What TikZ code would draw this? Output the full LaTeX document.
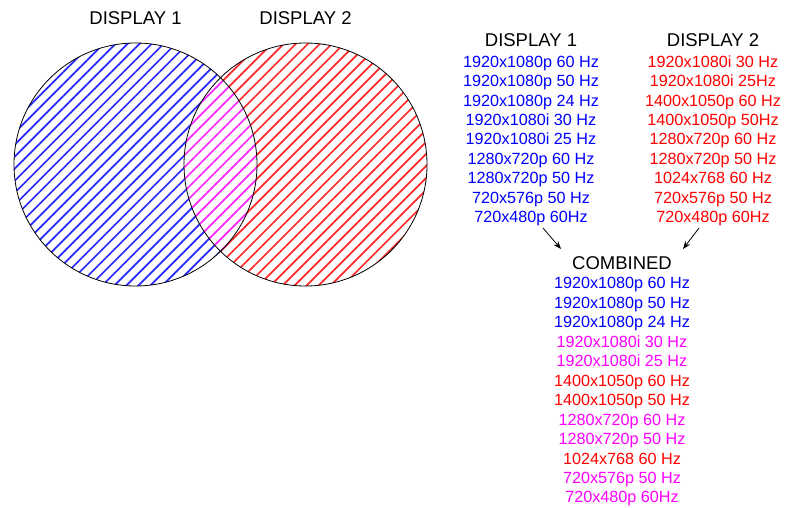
\documentclass[tikz,border=0pt]{standalone}
\usepackage{fontspec}
\setmainfont{Liberation Sans}
\usetikzlibrary{arrows.meta,patterns.meta}
\definecolor{pinkmode}{RGB}{255,0,255}
\definecolor{bluemode}{RGB}{0,0,255}
\definecolor{redmode}{RGB}{255,0,0}

\begin{document}
\begin{tikzpicture}[x=1pt, y=-1pt]
  \tikzset{
    head_text/.style={inner sep=0pt, text height=13.4pt, text depth=0pt, font=\fontsize{18.5}{20}\selectfont},
    mode_text/.style={inner sep=0pt, text height=11.8pt, text depth=0pt, font=\fontsize{16.2}{18}\selectfont},
    stripes/.style={pattern={Lines[angle=45, distance=8.5pt, line width=1.7pt]}, pattern color=#1!85},
    merge_arrow/.style={-{Stealth[length=8pt, width=6pt]}, line width=0.8pt}
  }
  \useasboundingbox (0,0) rectangle (790,508);

  % Círculos rayados
  \path[stripes=bluemode] (135.5,164.5) circle[radius=121.5];
  \path[stripes=redmode] (305.5,164.5) circle[radius=121.5];
  \begin{scope}
    \clip (135.5,164.5) circle[radius=121.5];
    \path[fill=white] (305.5,164.5) circle[radius=121.5];
    \path[stripes=pinkmode] (305.5,164.5) circle[radius=121.5];
  \end{scope}
  \node[circle, draw, line width=0.8pt, minimum size=243pt, inner sep=0pt] (c1) at (135.5,164.5) {};
  \node[circle, draw, line width=0.8pt, minimum size=243pt, inner sep=0pt] (c2) at (305.5,164.5) {};

  % Etiquetas de los círculos
  \node[head_text] (c1lbl) at (135.5,18) {DISPLAY 1};
  \node[head_text] (c2lbl) at (305.5,18) {DISPLAY 2};

  % Lista de DISPLAY 1
  \node[head_text] (d1) at (531,40) {DISPLAY 1};
  \foreach \txt [count=\i] in {1920x1080p 60 Hz, 1920x1080p 50 Hz, 1920x1080p 24 Hz,
      1920x1080i 30 Hz, 1920x1080i 25 Hz, 1280x720p 60 Hz, 1280x720p 50 Hz,
      720x576p 50 Hz, 720x480p 60Hz}
    \node[mode_text, text=bluemode] (d1\i) at (531,42+19.4*\i) {\txt};

  % Lista de DISPLAY 2
  \node[head_text] (d2) at (713,40) {DISPLAY 2};
  \foreach \txt [count=\i] in {1920x1080i 30 Hz, 1920x1080i 25Hz, 1400x1050p 60 Hz,
      1400x1050p 50Hz, 1280x720p 60 Hz, 1280x720p 50 Hz, 1024x768 60 Hz,
      720x576p 50 Hz, 720x480p 60Hz}
    \node[mode_text, text=redmode] (d2\i) at (713,42+19.4*\i) {\txt};

  % Lista combinada
  \node[head_text] (cb) at (622,263) {COMBINED};
  \foreach \txt/\col [count=\i] in {1920x1080p 60 Hz/bluemode, 1920x1080p 50 Hz/bluemode,
      1920x1080p 24 Hz/bluemode, 1920x1080i 30 Hz/pinkmode, 1920x1080i 25 Hz/pinkmode,
      1400x1050p 60 Hz/redmode, 1400x1050p 50 Hz/redmode, 1280x720p 60 Hz/pinkmode,
      1280x720p 50 Hz/pinkmode, 1024x768 60 Hz/redmode, 720x576p 50 Hz/pinkmode,
      720x480p 60Hz/pinkmode}
    \node[mode_text, text=\col] (cb\i) at (622,263.6+19.45*\i) {\txt};

  % Flechas hacia la lista combinada
  \coordinate (a1s) at (543,228);
  \coordinate (a1e) at (561,249);
  \coordinate (a2s) at (699,228);
  \coordinate (a2e) at (683,249);
  \draw[merge_arrow] (a1s) -- (a1e);
  \draw[merge_arrow] (a2s) -- (a2e);
\end{tikzpicture}
\end{document}
